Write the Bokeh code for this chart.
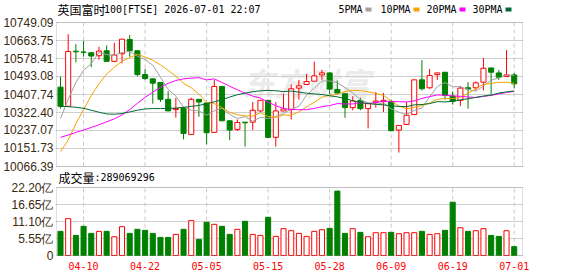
from bokeh.plotting import figure
from bokeh.models import (Range1d, FixedTicker, CustomJSTickFormatter, Label, BoxAnnotation,
                          ColumnDataSource)
from bokeh.embed import file_html
from bokeh.resources import INLINE

# ---------------- data ----------------
dates = ["04-07", "04-08", "04-09", "04-10", "04-13", "04-14", "04-15", "04-16", "04-17", "04-20",
         "04-21", "04-22", "04-23", "04-24", "04-27", "04-28", "04-29", "04-30", "05-01", "05-05",
         "05-06", "05-07", "05-08", "05-11", "05-12", "05-13", "05-14", "05-15", "05-18", "05-19",
         "05-20", "05-21", "05-22", "05-26", "05-27", "05-28", "05-29", "06-01", "06-02", "06-03",
         "06-04", "06-05", "06-08", "06-09", "06-10", "06-11", "06-12", "06-15", "06-16", "06-17",
         "06-18", "06-19", "06-22", "06-23", "06-24", "06-25", "06-26", "06-29", "06-30", "07-01"]

opens = [10442.7, 10351.8, 10613.0, 10609.0, 10605.7, 10591.6, 10615.1, 10565.0, 10601.0, 10668.4,
         10615.1, 10502.3, 10481.9, 10464.7, 10384.8, 10336.2, 10344.0, 10218.6, 10384.8, 10367.5,
         10228.1, 10445.8, 10283.0, 10242.2, 10276.6, 10276.6, 10329.9, 10380.0, 10204.6, 10329.9,
         10336.2, 10438.0, 10455.3, 10470.9, 10500.7, 10510.1, 10431.8, 10411.4, 10345.6, 10380.0,
         10340.9, 10370.6, 10373.8, 10375.3, 10239.0, 10265.7, 10312.7, 10477.2, 10439.6, 10502.3,
         10513.3, 10400.4, 10380.0, 10439.6, 10439.6, 10466.2, 10533.6, 10510.1, 10492.9, 10500.7]
highs = [10492.9, 10693.5, 10646.4, 10662.0, 10608.8, 10633.9, 10640.2, 10652.7, 10670.0, 10690.3,
         10618.0, 10528.9, 10483.0, 10466.0, 10423.9, 10391.0, 10345.5, 10392.6, 10386.0, 10368.5,
         10477.2, 10446.5, 10286.0, 10289.2, 10278.0, 10372.2, 10383.2, 10381.0, 10372.2, 10411.4,
         10455.3, 10477.2, 10505.4, 10563.4, 10524.2, 10512.0, 10474.1, 10412.5, 10398.9, 10392.6,
         10365.5, 10419.2, 10414.5, 10383.2, 10262.0, 10372.2, 10478.0, 10571.2, 10528.9, 10511.0,
         10514.5, 10422.4, 10447.4, 10466.2, 10469.4, 10580.6, 10534.5, 10524.2, 10618.2, 10510.1]
lows = [10340.9, 10349.0, 10560.3, 10587.0, 10536.8, 10572.8, 10563.5, 10560.3, 10555.6, 10586.9,
        10492.9, 10477.2, 10364.4, 10372.2, 10328.5, 10298.6, 10195.0, 10215.5, 10301.7, 10171.6,
        10227.0, 10282.0, 10192.0, 10234.3, 10160.7, 10239.0, 10325.2, 10199.9, 10160.7, 10328.5,
        10289.2, 10383.2, 10454.0, 10469.5, 10477.2, 10408.3, 10413.0, 10297.0, 10333.0, 10333.0,
        10246.9, 10345.6, 10325.2, 10234.5, 10132.5, 10264.5, 10311.5, 10427.0, 10434.9, 10477.2,
        10383.2, 10359.7, 10353.4, 10340.9, 10427.0, 10427.0, 10408.3, 10477.2, 10491.5, 10438.0]
closes = [10351.8, 10612.0, 10610.0, 10608.0, 10590.0, 10613.5, 10565.0, 10594.7, 10670.0, 10615.1,
          10502.3, 10483.5, 10461.5, 10384.8, 10329.9, 10340.9, 10223.4, 10384.8, 10372.2, 10226.5,
          10445.8, 10283.0, 10239.0, 10275.1, 10273.5, 10333.0, 10380.0, 10204.6, 10329.9, 10339.3,
          10434.9, 10449.0, 10469.4, 10496.0, 10510.1, 10433.3, 10414.5, 10345.6, 10376.9, 10340.9,
          10364.4, 10376.9, 10380.0, 10235.9, 10260.9, 10309.5, 10477.2, 10434.9, 10497.6, 10510.1,
          10403.6, 10375.3, 10438.0, 10433.3, 10463.1, 10532.0, 10513.3, 10489.8, 10500.7, 10458.4]
# volume in 亿 (1e8)
volumes = [7.88, 12.04, 6.57, 9.52, 7.22, 7.88, 7.88, 6.13, 9.41, 7.22,
           8.54, 8.21, 7.22, 5.91, 5.91, 6.90, 8.54, 11.38, 5.25, 10.84,
           10.18, 9.52, 6.90, 8.54, 11.17, 6.90, 6.57, 12.48, 6.24, 8.76,
           8.10, 7.22, 6.24, 7.88, 8.43, 8.87, 21.02, 7.22, 8.76, 7.55,
           6.13, 7.44, 7.44, 7.55, 7.12, 7.44, 7.44, 7.88, 6.90, 7.12,
           8.21, 17.41, 9.08, 7.88, 8.10, 8.76, 6.57, 6.24, 8.10, 2.89]

ma5 = [10294.0, 10385.0, 10465.0, 10523.0, 10554.4, 10606.7, 10597.3, 10594.2, 10606.6, 10611.7,
       10589.4, 10573.1, 10546.5, 10489.4, 10432.4, 10400.1, 10348.1, 10332.8, 10330.2, 10309.6,
       10330.5, 10342.5, 10313.3, 10293.9, 10303.3, 10280.7, 10300.1, 10293.2, 10304.2, 10317.4,
       10337.7, 10351.5, 10404.5, 10437.7, 10471.9, 10471.6, 10464.7, 10439.9, 10416.1, 10382.2,
       10368.5, 10360.9, 10367.8, 10339.6, 10323.6, 10312.6, 10332.7, 10343.7, 10396.0, 10445.9,
       10464.7, 10444.3, 10444.9, 10432.1, 10422.7, 10448.3, 10475.9, 10486.3, 10499.8, 10498.8]
ma10 = [10137.0, 10192.0, 10270.0, 10336.0, 10403.0, 10458.0, 10505.0, 10537.0, 10565.0, 10583.0,
        10598.1, 10585.2, 10570.4, 10548.0, 10522.0, 10494.8, 10460.6, 10439.6, 10409.8, 10371.0,
        10365.3, 10345.3, 10323.0, 10312.1, 10306.4, 10305.6, 10321.3, 10303.3, 10299.0, 10310.3,
        10309.2, 10325.8, 10348.9, 10371.0, 10394.6, 10404.7, 10408.1, 10422.2, 10426.9, 10427.1,
        10420.0, 10412.8, 10403.9, 10377.9, 10352.9, 10340.6, 10346.8, 10355.8, 10367.8, 10384.7,
        10388.7, 10388.5, 10394.3, 10414.0, 10434.3, 10456.5, 10460.1, 10465.6, 10465.9, 10460.8]
ma20 = [10204.6, 10215.5, 10228.1, 10239.0, 10251.6, 10264.1, 10278.2, 10292.3, 10311.1, 10336.2,
        10366.0, 10394.0, 10419.0, 10442.0, 10461.0, 10474.1, 10481.9, 10485.5, 10487.4, 10477.0,
        10481.7, 10465.2, 10446.7, 10430.1, 10414.2, 10400.2, 10391.0, 10371.4, 10354.4, 10340.7,
        10337.3, 10335.6, 10336.0, 10341.5, 10350.5, 10355.1, 10364.7, 10362.7, 10363.0, 10368.7,
        10364.6, 10369.3, 10376.4, 10374.4, 10373.8, 10372.6, 10377.5, 10389.0, 10397.4, 10405.9,
        10404.3, 10400.7, 10399.1, 10395.9, 10393.6, 10398.5, 10403.5, 10410.7, 10416.9, 10422.7]
ma30 = [10351.8, 10350.3, 10347.1, 10342.4, 10333.1, 10323.6, 10315.8, 10314.2, 10317.4, 10325.2,
        10333.1, 10339.3, 10340.9, 10340.9, 10341.5, 10343.5, 10347.0, 10351.0, 10356.0, 10364.0,
        10373.0, 10383.2, 10395.7, 10406.7, 10414.5, 10420.8, 10425.5, 10427.1, 10425.5, 10421.4,
        10424.2, 10418.8, 10414.1, 10410.4, 10407.7, 10401.7, 10396.7, 10388.4, 10378.6, 10369.5,
        10364.9, 10361.3, 10358.6, 10353.6, 10351.3, 10350.3, 10358.7, 10360.4, 10364.6, 10374.0,
        10372.6, 10375.7, 10382.3, 10387.6, 10393.9, 10400.6, 10405.0, 10414.5, 10420.2, 10424.2]

tick_dates = ["04-10", "04-22", "05-05", "05-15", "05-28", "06-09", "06-19", "07-01"]
price_ticks = [10749.09, 10663.75, 10578.41, 10493.08, 10407.74, 10322.40, 10237.07, 10151.73, 10066.39]
vol_ticks = [0, 5.55, 11.10, 16.65, 22.20]
vol_unit = "亿"
title_cn = "英国富时"
title_rest = "100[FTSE] 2026-07-01 22:07"
vol_title_cn = "成交量"
vol_title_rest = ":289069296"
ma_names = ["5PMA", "10PMA", "20PMA", "30PMA"]

# ---------------- styles / layout (pixels) ----------------
RED = "#ff0000"
GREEN = "#008000"
MA_COLORS = ["#a0a0a0", "#f5a300", "#ff00ff", "#006a32"]
GRID = "#d0d0d0"
VGRID = "#c8c8c8"
FRAME = "#999999"
LABEL = "#3a2a10"
CJK = "Noto Sans CJK SC"
MONO = "DejaVu Sans Mono"
W, H = 578, 276
FL, FR, FB = 55, 523, 256      # plotting frame: left, right, bottom (top = 0)
IDX0_PX, STEP = 60.0, 7.69     # pixel of first candle, pixels per candle
PT, PB = 22, 166               # price panel top / bottom
VT, VB = 187, 255              # volume panel top / bottom
PMIN, PMAX = price_ticks[-1], price_ticks[0]
VMAX = vol_ticks[-1]
KP = (PMAX - PMIN) / (PB - PT)
KV = VMAX / (VB - VT)

XR = Range1d((FL - IDX0_PX) / STEP, (FR - IDX0_PX) / STEP)
YR = Range1d(PMIN - (FB - PB) * KP, PMAX + PT * KP)
VR = Range1d(-(FB - VB) * KV, VB * KV)


def xd(px):
    return (px - IDX0_PX) / STEP


def yd(py):
    return PMAX - (py - PT) * KP


n = len(closes)
xs = list(range(n))
up = [c >= o for o, c in zip(opens, closes)]
cols = [RED if u else GREEN for u in up]
fills = ["white" if u else GREEN for u in up]
tops = [max(o, c) for o, c in zip(opens, closes)]
bots = [min(o, c) for o, c in zip(opens, closes)]
src = ColumnDataSource(dict(x=xs, high=highs, low=lows, top=tops, bot=bots,
                            color=cols, fill=fills, vol=volumes))
tick_idx = [dates.index(d) for d in tick_dates]

p = figure(width=W, height=H, x_range=XR, y_range=YR, output_backend="svg",
           toolbar_location=None, min_border_left=FL, min_border_right=W - FR,
           min_border_top=0, min_border_bottom=H - FB)
p.extra_y_ranges = {"vol": VR}
p.outline_line_color = None
p.background_fill_color = "white"
p.border_fill_color = "white"

# combined left axis: price ticks (price scale) + volume ticks placed via the volume scale
vol_tick_pos = [yd(VB - v / KV) for v in vol_ticks]
axis_pos = price_ticks + vol_tick_pos
axis_lab = ["%.2f" % t for t in price_ticks] + \
           ["0" if v == 0 else "%.2f%s" % (v, vol_unit) for v in vol_ticks]
p.yaxis.ticker = FixedTicker(ticks=axis_pos)
p.yaxis.formatter = CustomJSTickFormatter(args=dict(pos=axis_pos, labs=axis_lab), code="""
let best = 0, bd = Infinity;
for (let i = 0; i < pos.length; i++) {
  const d = Math.abs(pos[i] - tick);
  if (d < bd) { bd = d; best = i; }
}
return labs[best];
""")
p.yaxis.axis_line_color = None
p.yaxis.major_tick_line_color = None
p.yaxis.minor_tick_line_color = None
p.yaxis.major_tick_out = 0
p.yaxis.major_label_standoff = 2
p.yaxis.major_label_text_font = "Liberation Sans"
p.yaxis.major_label_text_font_size = "12px"
p.yaxis.major_label_text_color = LABEL
p.ygrid.ticker = FixedTicker(ticks=axis_pos)
p.ygrid.grid_line_color = GRID

p.xaxis.ticker = FixedTicker(ticks=tick_idx)
p.xaxis.major_label_overrides = {i: d for i, d in zip(tick_idx, tick_dates)}
p.xaxis.axis_line_color = None
p.xaxis.major_tick_line_color = None
p.xaxis.minor_tick_line_color = None
p.xaxis.major_tick_out = 0
p.xaxis.major_label_standoff = 5
p.xaxis.major_label_text_font = MONO
p.xaxis.major_label_text_font_size = "10px"
p.xaxis.major_label_text_color = RED
p.xgrid.grid_line_color = None

# watermark
p.add_layout(Label(x=xd(306), y=yd(81), text="东方财富", text_font=CJK,
                   text_font_size="32px", text_font_style="bold italic", text_color="#ececec",
                   text_align="center", text_baseline="middle", level="image"))

# dashed vertical grid lines in both panels
p.segment(x0=tick_idx, x1=tick_idx, y0=[PMIN] * len(tick_idx), y1=[PMAX] * len(tick_idx),
          line_color=VGRID, line_dash="4 3", line_width=1)
p.segment(x0=tick_idx, x1=tick_idx, y0=[0] * len(tick_idx), y1=[VMAX] * len(tick_idx),
          line_color=VGRID, line_dash="4 3", line_width=1, y_range_name="vol")

# candlesticks
p.segment(x0="x", y0="low", x1="x", y1="high", source=src, line_color="color", line_width=1)
p.vbar(x="x", top="top", bottom="bot", width=0.66, source=src, fill_color="fill",
       line_color="color", line_width=1)
for ma, c in zip([ma5, ma10, ma20, ma30], MA_COLORS):
    p.line(xs, ma, line_color=c, line_width=1)

# volume bars
p.vbar(x="x", top="vol", bottom=0, width=0.66, source=src, fill_color="fill",
       line_color="color", line_width=1, y_range_name="vol")

# panel borders
p.add_layout(BoxAnnotation(left=xd(56), right=xd(522), top=PMAX, bottom=PMIN,
                           fill_color=None, line_color=FRAME, line_width=1))
p.add_layout(BoxAnnotation(left=xd(56), right=xd(522), top=VMAX, bottom=0, y_range_name="vol",
                           fill_color=None, line_color=FRAME, line_width=1))

# header: title + legend
p.add_layout(Label(x=xd(57), y=yd(8.5), text=title_cn, text_font=CJK,
                   text_font_size="12px", text_color="#000000", text_baseline="middle"))
p.add_layout(Label(x=xd(103.5), y=yd(8.5), text=title_rest, text_font=MONO,
                   text_font_size="10px", text_color="#000000", text_baseline="middle"))
leg_x = [338, 380, 426, 472]
for name, c, lx in zip(ma_names, MA_COLORS, leg_x):
    p.add_layout(Label(x=xd(lx), y=yd(9), text=name, text_font=MONO,
                       text_font_size="10px", text_color="#000000", text_baseline="middle"))
    sx = lx + len(name) * 6 + 3
    p.add_layout(BoxAnnotation(left=xd(sx), right=xd(sx + 6), top=yd(7), bottom=yd(11),
                               fill_color=c, fill_alpha=1, line_color=None))

# volume header
p.add_layout(Label(x=xd(58), y=yd(177), text=vol_title_cn, text_font=CJK,
                   text_font_size="12px", text_color="#000000", text_baseline="middle"))
p.add_layout(Label(x=xd(94), y=yd(177), text=vol_title_rest, text_font=MONO,
                   text_font_size="10px", text_color="#000000", text_baseline="middle"))

open("out.html", "w").write(file_html(p, INLINE))
